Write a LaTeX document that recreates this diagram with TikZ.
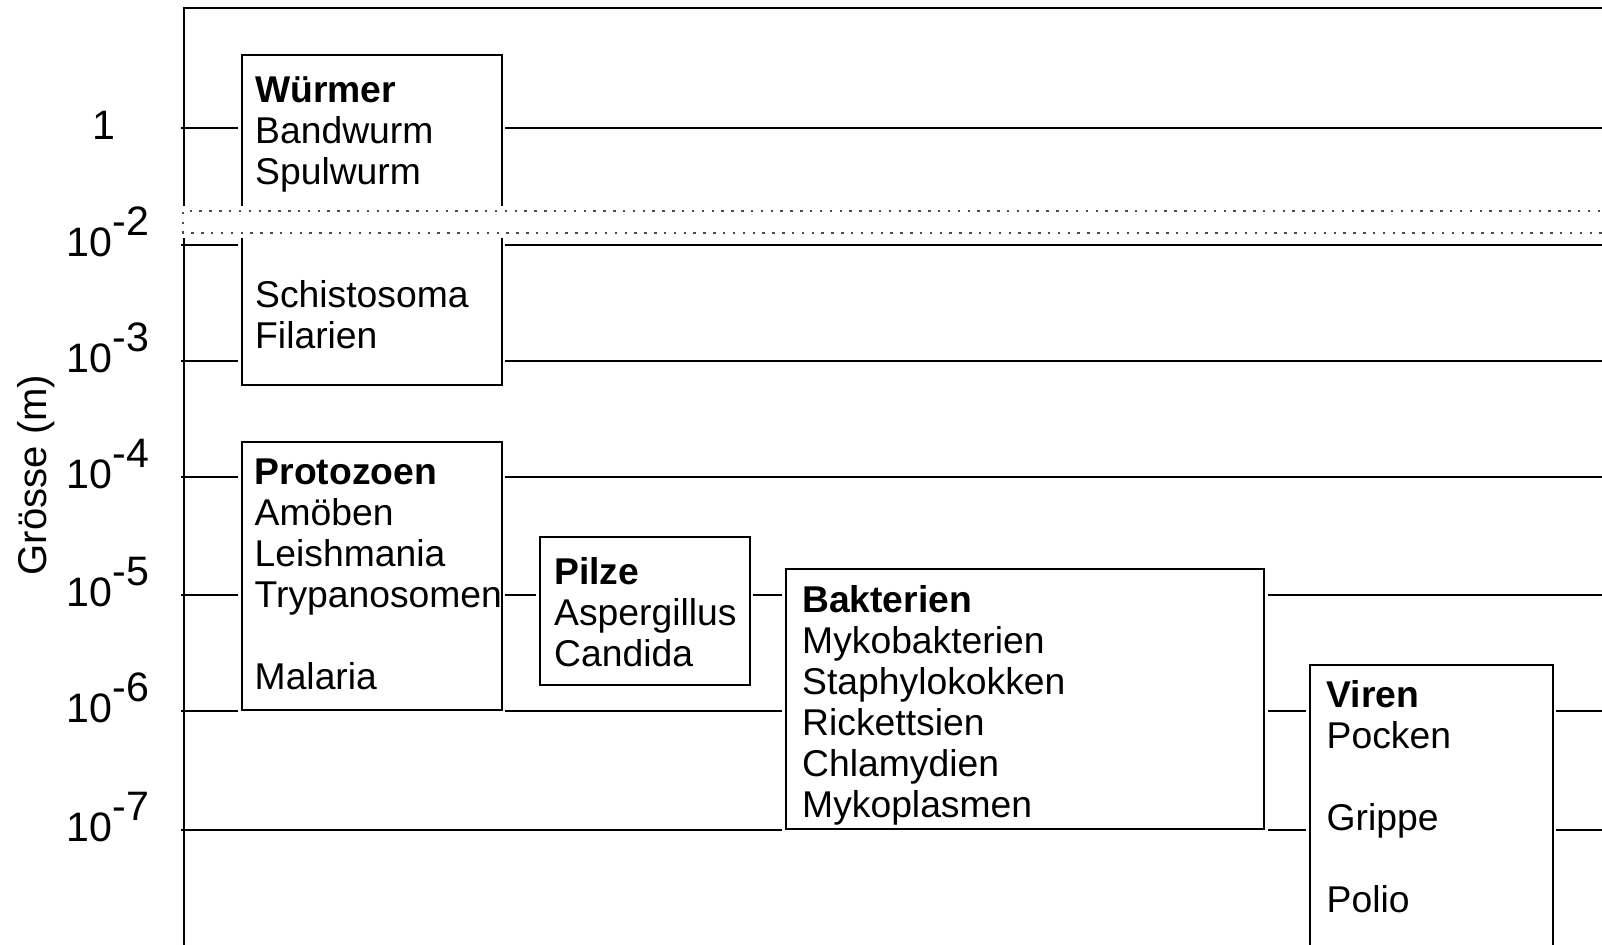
\documentclass[tikz,border=0pt]{standalone}
\usepackage{fontspec}
\setmainfont{Liberation Sans}
\usetikzlibrary{positioning}

\newcommand{\tenexp}[1]{10\raisebox{5.7pt}{-#1}}

\tikzset{
  gridline/.style={line width=0.45pt},
  box/.style={draw, line width=0.45pt, fill=white, inner sep=0pt, anchor=north west,
    preaction={draw=white, line width=2pt}},
  boxtext/.style={inner sep=0pt, align=left, font=\fontsize{10.6}{11.67}\selectfont},
  ticklabel/.style={inner sep=0pt, anchor=base west, font=\fontsize{11.7}{13}\selectfont},
  breakline/.style={black!70, line width=0.55pt, dash pattern=on 0.7pt off 2.1pt},
}

\begin{document}
\begin{tikzpicture}[x=0.01cm, y=-0.01cm]
\useasboundingbox (0,0) rectangle (1602,945);

% frame
\coordinate (corner) at (184,8);
\coordinate (topend) at (1610,8);
\coordinate (bottomend) at (184,960);
\draw[gridline] (topend) -- (corner) -- (bottomend);

% size lines
\coordinate (a0) at (181,128); \coordinate (b0) at (1610,128);
\coordinate (a2) at (181,245); \coordinate (b2) at (1610,245);
\coordinate (a3) at (181,361); \coordinate (b3) at (1610,361);
\coordinate (a4) at (181,477); \coordinate (b4) at (1610,477);
\coordinate (a5) at (181,595); \coordinate (b5) at (1610,595);
\coordinate (a6) at (181,711); \coordinate (b6) at (1610,711);
\coordinate (a7) at (181,830); \coordinate (b7) at (1610,830);
\draw[gridline] (a0) -- (b0);
\draw[gridline] (a2) -- (b2);
\draw[gridline] (a3) -- (b3);
\draw[gridline] (a4) -- (b4);
\draw[gridline] (a5) -- (b5);
\draw[gridline] (a6) -- (b6);
\draw[gridline] (a7) -- (b7);

% boxes
\node[box, minimum width=2.60cm, minimum height=3.30cm] (wurm) at (241,54) {};
\node[box, minimum width=2.60cm, minimum height=2.68cm] (proto) at (241,441) {};
\node[box, minimum width=2.10cm, minimum height=1.48cm] (pilz) at (539,536) {};
\node[box, minimum width=4.78cm, minimum height=2.60cm] (bakt) at (785,568) {};
\node[box, minimum width=2.43cm, minimum height=3.00cm] (viren) at (1309,664) {};

% scale break
\fill[white] (178,206) rectangle (1610,238);
\draw[breakline] (1610,211) -- (183,211) -- (183,233) -- (1610,233);

% texts
\node[boxtext, below right=0.193cm and 0.135cm of wurm.north west] (wurmtext)
  {\strut\textbf{Würmer}\\Bandwurm\\Spulwurm\\[0.82cm]Schistosoma\\Filarien};
\node[boxtext, below right=0.143cm and 0.13cm of proto.north west] (prototext)
  {\strut\textbf{Protozoen}\\Amöben\\Leishmania\\Trypanosomen\\[0.41cm]Malaria};
\node[boxtext, below right=0.187cm and 0.145cm of pilz.north west] (pilztext)
  {\strut\textbf{Pilze}\\Aspergillus\\Candida};
\node[boxtext, below right=0.148cm and 0.165cm of bakt.north west] (bakttext)
  {\strut\textbf{Bakterien}\\Mykobakterien\\Staphylokokken\\Rickettsien\\Chlamydien\\Mykoplasmen};
\node[boxtext, below right=0.14cm and 0.17cm of viren.north west] (virentext)
  {\strut\textbf{Viren}\\Pocken\\[0.41cm]Grippe\\[0.41cm]Polio};

% axis labels
\node[ticklabel] (l0) at (92,139) {1};
\node[ticklabel] (l2) at (66,256) {\tenexp{2}};
\node[ticklabel] (l3) at (66,372) {\tenexp{3}};
\node[ticklabel] (l4) at (66,488) {\tenexp{4}};
\node[ticklabel] (l5) at (66,606) {\tenexp{5}};
\node[ticklabel] (l6) at (66,722) {\tenexp{6}};
\node[ticklabel] (l7) at (66,841) {\tenexp{7}};
\node[rotate=90, inner sep=0pt, font=\fontsize{11.4}{13}\selectfont] (ylabel) at (36,475) {Grösse (m)};

\end{tikzpicture}
\end{document}
